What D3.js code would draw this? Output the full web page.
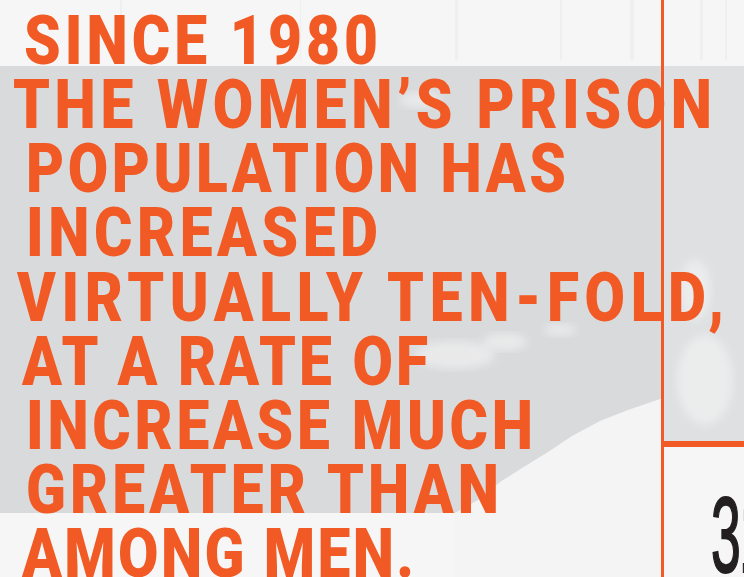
<!DOCTYPE html>
<html>
<head>
<meta charset="utf-8">
<script src="https://cdn.jsdelivr.net/npm/d3@7"></script>
<style>
  html, body { margin: 0; padding: 0; background: #f6f6f6; }
  svg { display: block; }
</style>
</head>
<body>
<svg class="poster"></svg>
<script>
const size = {w: 744, h: 577};

// the statement, one stencil line each
const lines = [
  'SINCE 1980',
  'THE WOMEN’S PRISON',
  'POPULATION HAS',
  'INCREASED',
  'VIRTUALLY TEN-FOLD,',
  'AT A RATE OF',
  'INCREASE MUCH',
  'GREATER THAN',
  'AMONG MEN.'
];
// where each line starts and stops
const lineLeft  = [24, 13, 26, 26, 17, 22, 26, 26, 22];
const lineRight = [378, 712, 566, 378, 724, 428, 533, 499, 414];

const pageNumber = '31';

const orange = '#f15a24';
// glyphs are squeezed a bit, the gaps are filled with letter spacing
const squeeze = 0.85;

const svg = d3.select('svg.poster')
    .attr('width', size.w)
    .attr('height', size.h);

// soft edges for the scuffs
svg.append('defs').append('filter')
    .attr('id', 'soft')
    .append('feGaussianBlur')
    .attr('stdDeviation', 4);

// --------- BACKGROUND ----------
const bg = svg.append('g').classed('bg', true);

bg.append('rect')
    .attr('width', size.w).attr('height', size.h)
    .attr('fill', '#f6f6f6');

// grey paper band
bg.append('rect')
    .attr('x', 0).attr('y', 66)
    .attr('width', 663).attr('height', 447)
    .attr('fill', '#d9dadc');

// right strip, a bit lighter
bg.append('rect')
    .attr('x', 663).attr('y', 66)
    .attr('width', size.w - 663).attr('height', 378)
    .attr('fill', '#dfe0e2');

// torn white edge bottom right
const torn = [[455, 513], [478, 500], [500, 482], [522, 468], [548, 452],
    [572, 436], [600, 421], [628, 410], [663, 398], [663, 577], [455, 577]];
bg.append('path')
    .attr('d', d3.line()(torn) + 'Z')
    .attr('fill', '#f4f4f4');

// some white scuffs
const scuffs = [[455, 355, 40, 14], [505, 342, 22, 9], [705, 380, 28, 45],
    [695, 290, 16, 30], [420, 100, 20, 8], [560, 330, 16, 6]];
bg.selectAll('ellipse.scuff')
    .data(scuffs)
    .join('ellipse')
    .classed('scuff', true)
    .attr('cx', d => d[0]).attr('cy', d => d[1])
    .attr('rx', d => d[2]).attr('ry', d => d[3])
    .attr('fill', '#f4f4f4')
    .attr('opacity', 0.6)
    .attr('filter', 'url(#soft)');

// faint vertical streaks in the top paper
const streaks = [[120, 2], [300, 1], [455, 3], [560, 2], [630, 4], [700, 3], [725, 2]];
bg.selectAll('rect.streak')
    .data(streaks)
    .join('rect')
    .classed('streak', true)
    .attr('x', d => d[0]).attr('y', 0)
    .attr('width', d => d[1]).attr('height', 60)
    .attr('fill', '#c8c8c8')
    .attr('opacity', 0.15);

// --------- RULES ----------
svg.append('rect')
    .attr('x', 661).attr('y', 0)
    .attr('width', 3).attr('height', size.h)
    .attr('fill', orange);

svg.append('rect')
    .attr('x', 661).attr('y', 441)
    .attr('width', size.w - 661).attr('height', 6)
    .attr('fill', orange);

// --------- TEXT ----------
const baseY = d3.scaleLinear()
    .domain([0, lines.length - 1])
    .range([64, 577]);

svg.append('g').classed('statement', true)
    .selectAll('text')
    .data(lines)
    .join('text')
    .attr('transform', (d, i) => `translate(${lineLeft[i]},${baseY(i)}) scale(${squeeze},1)`)
    .attr('textLength', (d, i) => (lineRight[i] - lineLeft[i]) / squeeze)
    .attr('lengthAdjust', 'spacing')
    .attr('fill', orange)
    .style('font-family', 'Roboto, "DejaVu Sans", sans-serif')
    .style('font-weight', 900)
    .style('font-size', '69px')
    .text(d => d);

// page number, cut by the edge
svg.append('text')
    .attr('transform', 'translate(711,572) scale(0.5,1)')
    .attr('fill', '#231f20')
    .style('font-family', '"Liberation Sans", sans-serif')
    .style('font-size', '107px')
    .style('stroke', '#231f20')
    .style('stroke-width', '2px')
    .style('letter-spacing', '-3px')
    .text(pageNumber);
</script>
</body>
</html>
